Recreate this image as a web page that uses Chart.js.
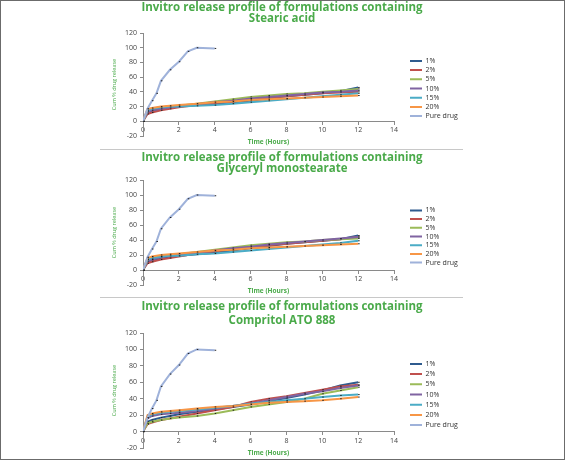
<!DOCTYPE html>
<html>
<head>
<meta charset="utf-8">
<script src="https://cdn.jsdelivr.net/npm/chart.js@4.4.1/dist/chart.umd.min.js"></script>
<style>
  html, body { margin: 0; padding: 0; background: #fff; }
  #frame { position: relative; width: 563px; height: 458px; border: 1px solid #6b6b6b; background: #fff; overflow: hidden; }
  canvas { position: absolute; left: 99px; }
  .sep { position: absolute; left: 99px; width: 363px; height: 0; border-top: 1px solid #c8c8c8; }
</style>
</head>
<body>
<div id="frame">
  <canvas id="c1" width="364" height="148" style="top:-1px"></canvas>
  <div class="sep" style="top:148px"></div>
  <canvas id="c2" width="364" height="147" style="top:149px"></canvas>
  <div class="sep" style="top:296px"></div>
  <canvas id="c3" width="364" height="160" style="top:298px"></canvas>
</div>
<script>
// time points (hours)
const TIME = [0, 0.25, 0.5, 1, 1.5, 2, 3, 4, 5, 6, 7, 8, 9, 10, 11, 12];
const PURE_TIME = [0, 0.25, 0.5, 0.75, 1, 1.5, 2, 2.5, 3, 4];
const PURE_DRUG = [0, 17, 28, 38, 55, 70, 81, 95, 100, 99];

const SERIES_LABELS = ['1%', '2%', '5%', '10%', '15%', '20%'];
const PURE_LABEL = 'Pure drug';
const X_TICKS = [0, 2, 4, 6, 8, 10, 12, 14];
const Y_TICKS = [-20, 0, 20, 40, 60, 80, 100, 120];

const TITLE_LINE1 = 'Invitro release profile of formulations containing';
const X_TITLE = 'Time (Hours)';
const Y_TITLE = 'Cum % drug release';

// Stearic acid
const SA_1  = [0, 12, 14, 17, 19, 20, 22, 24, 26, 28, 31, 34, 36, 38, 41, 46];
const SA_2  = [0, 10, 12, 15, 17, 19, 22, 25, 27, 30, 32, 34, 36, 38, 39, 40];
const SA_5  = [0, 14, 16, 19, 20, 21, 24, 27, 30, 33, 35, 37, 38, 40, 42, 44];
const SA_10 = [0, 13, 15, 17, 19, 20, 23, 26, 28, 31, 33, 35, 37, 39, 40, 42];
const SA_15 = [0, 15, 17, 19, 20, 20, 21, 22, 24, 26, 28, 30, 32, 34, 36, 38];
const SA_20 = [0, 17, 18, 20, 21, 22, 24, 26, 27, 29, 30, 31, 32, 33, 34, 35];

// Glyceryl monostearate
const GMS_1  = [0, 11, 13, 16, 18, 19, 21, 23, 26, 29, 32, 35, 37, 39, 41, 46];
const GMS_2  = [0, 9, 11, 14, 16, 18, 22, 25, 28, 30, 33, 35, 37, 39, 41, 44];
const GMS_5  = [0, 13, 15, 18, 20, 21, 24, 27, 30, 33, 35, 37, 38, 40, 41, 42];
const GMS_10 = [0, 12, 14, 17, 19, 20, 23, 26, 29, 31, 34, 36, 38, 40, 42, 44];
const GMS_15 = [0, 14, 16, 18, 19, 19, 21, 22, 24, 26, 28, 30, 32, 34, 36, 39];
const GMS_20 = [0, 16, 18, 20, 21, 22, 24, 26, 27, 29, 30, 31, 32, 33, 34, 35];

// Compritol ATO 888
const CA_1  = [0, 12, 14, 17, 19, 21, 24, 27, 30, 33, 37, 41, 45, 50, 56, 60];
const CA_2  = [0, 9, 11, 14, 16, 18, 22, 26, 30, 36, 40, 43, 47, 51, 55, 57];
const CA_5  = [0, 10, 12, 14, 16, 17, 19, 22, 26, 30, 33, 36, 40, 46, 50, 54];
const CA_10 = [0, 16, 19, 21, 22, 23, 25, 28, 31, 34, 38, 42, 46, 49, 53, 56];
const CA_15 = [0, 18, 21, 23, 24, 25, 27, 29, 31, 34, 36, 38, 40, 42, 44, 45];
const CA_20 = [0, 20, 22, 24, 25, 26, 28, 30, 31, 33, 35, 36, 37, 38, 40, 42];

const COLORS = ['#2f5b8e', '#c0504d', '#9bbb59', '#8064a2', '#4bacc6', '#f79646', '#9fb2da'];
const GREEN = '#4aaa4a';
const FONT = '"Open Sans", "Liberation Sans", sans-serif';

const PLOT_LEFT = 43, PLOT_RIGHT = 294, LEG_X = 310;

function pts(xs, ys) {
    return xs.map((x, i) => ({ x: x, y: ys[i] }));
}

function legendLabels(chart) {
    const items = Chart.defaults.plugins.legend.labels.generateLabels(chart);
    items.forEach(it => {
        it.strokeStyle = COLORS[it.datasetIndex];
        it.lineWidth = 2;
    });
    return items;
}

function makeChart(id, subtitle, series, lay) {
    const canvas = document.getElementById(id);
    const all = series.concat([PURE_DRUG]);
    const datasets = all.map((vals, i) => ({
        label: i < series.length ? SERIES_LABELS[i] : PURE_LABEL,
        data: i < series.length ? pts(TIME, vals) : pts(PURE_TIME, vals),
        borderColor: COLORS[i],
        backgroundColor: COLORS[i],
        borderWidth: 2,
        pointStyle: 'dash',
        pointRadius: 1.5,
        pointBorderColor: '#222',
        pointBorderWidth: 1,
        yAxisID: 'y',
        order: all.length - i
    }));
    const spacer = LEG_X - PLOT_RIGHT - lay.legPad;

    return new Chart(canvas, {
        type: 'line',
        data: { datasets: datasets },
        options: {
            responsive: false,
            animation: false,
            layout: { padding: { left: 0, right: 0, top: 0, bottom: lay.bottom } },
            plugins: {
                title: {
                    display: true,
                    text: [TITLE_LINE1, subtitle],
                    color: GREEN,
                    font: { family: FONT, size: 11.5, weight: 'bold', lineHeight: lay.titleLH },
                    padding: { top: lay.titleTop, bottom: lay.titleBottom }
                },
                legend: {
                    position: 'right',
                    fullSize: false,
                    maxWidth: canvas.width - PLOT_RIGHT - spacer,
                    title: { display: true, text: '', font: { size: 1, lineHeight: 1 }, padding: { top: 4, bottom: 3 } },
                    labels: {
                        usePointStyle: true,
                        pointStyle: 'line',
                        pointStyleWidth: 12,
                        padding: lay.legPad,
                        color: '#333',
                        font: { family: FONT, size: 7 },
                        generateLabels: legendLabels,
                        sort: (a, b) => a.datasetIndex - b.datasetIndex
                    }
                },
                tooltip: { enabled: false }
            },
            scales: {
                x: {
                    type: 'linear',
                    position: { y: 0 },
                    min: X_TICKS[0],
                    max: X_TICKS[X_TICKS.length - 1],
                    ticks: { stepSize: X_TICKS[1] - X_TICKS[0], color: '#444', font: { family: FONT, size: 7 }, padding: 2, maxRotation: 0 },
                    grid: { display: true, drawOnChartArea: false, drawTicks: true, tickLength: 3, color: '#8a8a8a' },
                    border: { display: true, color: '#8a8a8a', width: 1 },
                    title: { display: true, text: X_TITLE, color: GREEN, font: { family: FONT, size: 6.5, weight: 'bold' }, padding: { top: 2, bottom: 0 } }
                },
                y: {
                    type: 'linear',
                    position: 'left',
                    min: Y_TICKS[0],
                    max: Y_TICKS[Y_TICKS.length - 1],
                    ticks: { stepSize: Y_TICKS[1] - Y_TICKS[0], color: '#444', font: { family: FONT, size: 7 }, padding: 3 },
                    grid: { display: true, drawOnChartArea: false, drawTicks: true, tickLength: 3, color: '#8a8a8a' },
                    border: { display: true, color: '#8a8a8a', width: 1 },
                    title: { display: true, text: Y_TITLE, color: GREEN, font: { family: FONT, size: 5.5 }, padding: { top: 11, bottom: 0 } },
                    afterFit: (s) => { s.width = PLOT_LEFT; }
                },
                // empty axis only used to leave a gap before the legend
                gap: {
                    type: 'linear',
                    position: 'right',
                    display: true,
                    ticks: { display: false },
                    grid: { display: false },
                    border: { display: false },
                    afterFit: (s) => { s.width = spacer; }
                }
            }
        }
    });
}

makeChart('c1', 'Stearic acid', [SA_1, SA_2, SA_5, SA_10, SA_15, SA_20],
    { titleLH: 1, titleTop: 1.5, titleBottom: 8.5, bottom: 12, legPad: 2.2 });
makeChart('c2', 'Glyceryl monostearate', [GMS_1, GMS_2, GMS_5, GMS_10, GMS_15, GMS_20],
    { titleLH: 1, titleTop: 1.5, titleBottom: 5.5, bottom: 12, legPad: 1.7 });
makeChart('c3', 'Compritol ATO 888', [CA_1, CA_2, CA_5, CA_10, CA_15, CA_20],
    { titleLH: '14px', titleTop: 1, titleBottom: 5, bottom: 11, legPad: 3.2 });
</script>
</body>
</html>
